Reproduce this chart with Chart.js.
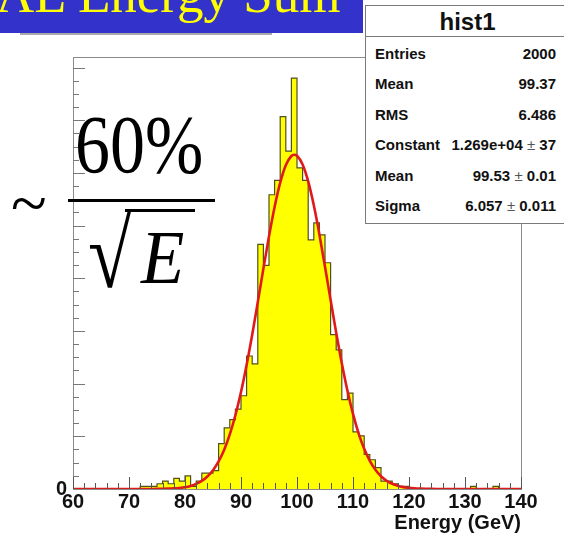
<!DOCTYPE html>
<html>
<head>
<meta charset="utf-8">
<script src="https://cdn.jsdelivr.net/npm/chart.js@4.4.0/dist/chart.umd.min.js"></script>
<style>
  html, body { margin: 0; padding: 0; background: #fff; }
  #wrap { position: relative; width: 564px; height: 535px; overflow: hidden; }
  #plot { position: absolute; left: 0; top: 0; }
  .banner { position: absolute; left: 0; top: 0; width: 363px; height: 33px; background: #3333cc; overflow: hidden; }
  .banner span { position: absolute; left: -4px; top: -32px; font: 53px/53px "Liberation Serif", serif; color: #ffff00; white-space: nowrap; }
  .banner-shadow { position: absolute; left: 20px; top: 33px; width: 252px; height: 2px; background: #aaa; }
  .math { position: absolute; font-family: "Liberation Serif", serif; color: #000; white-space: nowrap; }
  .stats { position: absolute; left: 365px; top: 5px; width: 203px; height: 217px; border: 1px solid #7a7a7a; background: #fff; font-family: "Liberation Sans", Arial, sans-serif; color: #111; }
  .stats .hd { position: absolute; left: 0; right: 0; top: 0; height: 30px; border-bottom: 1px solid #7a7a7a; text-align: center; font: bold 24px/31px "Liberation Sans", Arial, sans-serif; }
  .stats .row { position: absolute; left: 9px; width: 181px; height: 20px; font: bold 15px/20px "Liberation Sans", Arial, sans-serif; }
  .stats .row .v { position: absolute; right: 0; top: 0; }
  .stats .pm { font-weight: normal; color: #555; }
</style>
</head>
<body>
<div id="wrap">
  <canvas id="plot" width="564" height="535"></canvas>
  <div class="banner"><span>AL Energy Sum</span></div>
  <div class="banner-shadow"></div>
  <div class="math" style="left:11px; top:170px; font-size:66px; line-height:66px;">~</div>
  <div class="math" style="left:75px; top:115px; font-size:70px; line-height:68px; transform-origin:0 57px; transform:scaleY(1.17);">60%</div>
  <div style="position:absolute; left:68px; top:199px; width:147px; height:3px; background:#000;"></div>
  <div class="math" style="left:88px; top:207px; font-size:96px; line-height:96px; font-weight:bold; transform-origin:0 0; transform:scaleX(0.82);">√</div>
  <div style="position:absolute; left:125px; top:209px; width:70px; height:3px; background:#000;"></div>
  <div class="math" style="left:141px; top:224px; font-size:71px; line-height:70px; font-style:italic; transform-origin:0 59px; transform:scaleY(1.08);">E</div>
  <div class="stats" id="stats"><div class="hd">hist1</div></div>
</div>
<script>
// energy histogram, 1 GeV bins from 60 to 140
var histMin = 60;
var histMax = 140;
var binWidth = 1;
var binContents = [
    0,     0,     0,     0,     0,     0,     0,     0,     0,     0,   // 60-69
    0,     0,   100,   100,   100,   200,   300,   200,   400,   300,   // 70-79
  500,   100,   300,   600,   600,   700,  1720,  2320,  2630,  3030,   // 80-89
 3540,  5050,  4750,  9290,  8490, 11170, 11720, 14140, 12830, 15600,   // 90-99
12190, 11720,  9460, 10100,  9650,  8590,  5860,  5280,  3390,  3640,   // 100-109
 2170,  2020,  1310,  1110,   810,   300,   300,   200,   100,   100,   // 110-119
    0,     0,     0,     0,     0,     0,     0,     0,     0,     0,   // 120-129
    0,   100,     0,     0,     0,   100,     0,     0,     0,     0    // 130-139
];

// gaussian fit curve, sampled along the energy axis
var fitEnergy = [60, 70, 74, 75, 76, 77, 78, 79, 80, 81, 82, 83, 84, 85, 86, 87, 88, 89,
  90, 91, 92, 93, 94, 95, 96, 97, 98, 99, 99.5, 100, 101, 102, 103, 104, 105, 106, 107, 108, 109,
  110, 111, 112, 113, 114, 115, 116, 117, 118, 119, 120, 121, 122, 123, 124, 125, 130, 140];
var fitValue = [0, 0, 2, 3, 7, 13, 23, 41, 70, 118, 193, 306, 474, 714, 1047, 1494, 2074, 2800,
  3681, 4708, 5859, 7098, 8365, 9594, 10708, 11631, 12291, 12642, 12690, 12652, 12322, 11678, 10770, 9665, 8440, 7174, 5931, 4774, 3739,
  2849, 2112, 1524, 1070, 731, 486, 315, 198, 121, 72, 42, 24, 13, 7, 4, 2, 0, 0];

var xTickValues = [60, 70, 80, 90, 100, 110, 120, 130, 140];
var xMajorStep = 10, xMinorStep = 2;
var yMax = 16400;
var yMajorStep = 2000, yMinorStep = 500;

var statNames = ["Entries", "Mean", "RMS", "Constant", "Mean", "Sigma"];
var statValues = ["2000", "99.37", "6.486", "1.269e+04 ± 37", "99.53 ± 0.01", "6.057 ± 0.011"];

// stats box rows
var statsBox = document.getElementById("stats");
for (var i = 0; i < statNames.length; i++) {
  var statRow = document.createElement("div");
  statRow.className = "row";
  statRow.style.top = (38 + i * 30.4) + "px";
  var statName = document.createElement("span");
  statName.textContent = statNames[i];
  var statVal = document.createElement("span");
  statVal.className = "v";
  var parts = statValues[i].split("±");
  if (parts.length == 2) {
    statVal.innerHTML = parts[0] + '<span class="pm">±</span>' + parts[1];
  } else {
    statVal.textContent = statValues[i];
  }
  statRow.appendChild(statName);
  statRow.appendChild(statVal);
  statsBox.appendChild(statRow);
}

// histogram outline points: left bin edges, closed at the upper edge
var histPoints = [];
for (var b = 0; b < binContents.length; b++) {
  histPoints.push({x: histMin + b * binWidth, y: binContents[b]});
}
histPoints.push({x: histMax, y: 0});

var fitPoints = [];
for (var k = 0; k < fitEnergy.length; k++) {
  fitPoints.push({x: fitEnergy[k], y: fitValue[k]});
}

// ROOT style frame with ticks on the inside
var rootFrame = {
  id: "rootFrame",
  beforeDatasetsDraw: function(chart) {
    var ctx = chart.ctx, a = chart.chartArea;
    ctx.save();
    ctx.strokeStyle = "#8a8a8a";
    ctx.lineWidth = 1;
    ctx.strokeRect(Math.round(a.left) + 0.5, Math.round(a.top) + 0.5, Math.round(a.right - a.left), Math.round(a.bottom - a.top));
    ctx.restore();
  },
  afterDatasetsDraw: function(chart) {
    var ctx = chart.ctx, a = chart.chartArea;
    var xs = chart.scales.x, ys = chart.scales.y;
    ctx.save();
    ctx.lineWidth = 1;
    ctx.strokeStyle = "#555";
    for (var v = histMin; v <= histMax; v += xMinorStep) {
      var px = Math.round(xs.getPixelForValue(v)) + 0.5;
      var len = (v % xMajorStep === 0) ? 12 : 6;
      ctx.beginPath();
      ctx.moveTo(px, a.bottom);
      ctx.lineTo(px, a.bottom - len);
      ctx.stroke();
    }
    ctx.strokeStyle = "#777";
    for (var w = yMinorStep; w < yMax; w += yMinorStep) {
      var py = Math.round(ys.getPixelForValue(w)) + 0.5;
      var ylen = (w % yMajorStep === 0) ? 12 : 6;
      ctx.beginPath();
      ctx.moveTo(a.left, py);
      ctx.lineTo(a.left + ylen, py);
      ctx.stroke();
    }
    ctx.restore();
  }
};

var labelFont = {family: "'Liberation Sans', Arial, sans-serif", weight: "bold", size: 20};

new Chart(document.getElementById("plot").getContext("2d"), {
  type: "line",
  data: {
    datasets: [
      {
        label: "fit",
        data: fitPoints,
        order: 0,
        borderColor: "rgb(225, 25, 25)",
        borderWidth: 2.6,
        pointRadius: 0,
        fill: false,
        cubicInterpolationMode: "monotone"
      },
      {
        label: "hist1",
        data: histPoints,
        order: 1,
        stepped: "before",
        borderColor: "rgb(80, 80, 30)",
        borderWidth: 1.2,
        backgroundColor: "#ffff00",
        pointRadius: 0,
        fill: "origin"
      }
    ]
  },
  options: {
    responsive: false,
    animation: false,
    devicePixelRatio: 1,
    layout: {padding: {top: 57, right: 43, bottom: 0, left: 0}},
    plugins: {legend: {display: false}, tooltip: {enabled: false}},
    scales: {
      x: {
        type: "linear",
        min: histMin,
        max: histMax,
        grid: {display: false, drawTicks: false},
        border: {display: false},
        afterBuildTicks: function(s) { s.ticks = xTickValues.map(function(v) { return {value: v}; }); },
        afterFit: function(s) { s.height = 46; },
        ticks: {font: labelFont, color: "#111", padding: 1, maxRotation: 0, autoSkip: false},
        title: {display: true, text: "Energy (GeV)", align: "end", font: labelFont, color: "#111", padding: 0}
      },
      y: {
        min: 0,
        max: yMax,
        grid: {display: false, drawTicks: false},
        border: {display: false},
        afterFit: function(s) { s.width = 73; },
        ticks: {
          stepSize: yMajorStep,
          font: labelFont,
          color: "#111",
          padding: 6,
          callback: function(v) { return v === 0 ? "0" : ""; }
        }
      }
    }
  },
  plugins: [rootFrame]
});
</script>
</body>
</html>
